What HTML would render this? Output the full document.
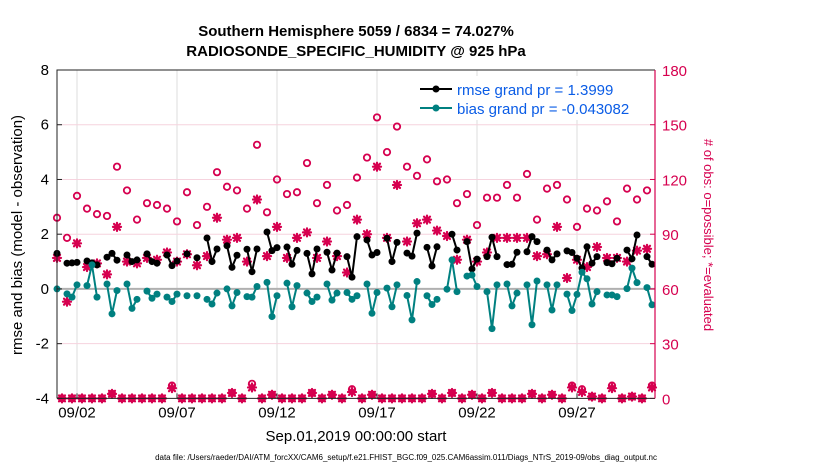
<!DOCTYPE html>
<html><head><meta charset="utf-8"><style>
html,body{margin:0;padding:0;background:#fff;}
svg{display:block;font-family:"Liberation Sans",sans-serif;}
</style></head><body>
<svg id="chart" width="830" height="470" viewBox="0 0 830 470" xmlns="http://www.w3.org/2000/svg">
<rect x="0" y="0" width="830" height="470" fill="#fff"/>
<text x="356" y="36" text-anchor="middle" font-size="15" font-weight="bold">Southern Hemisphere 5059 / 6834 = 74.027%</text>
<text x="356" y="56" text-anchor="middle" font-size="15" font-weight="bold">RADIOSONDE_SPECIFIC_HUMIDITY @ 925 hPa</text>
<g id="grid"></g>
<g id="marks"></g>
<g id="axes"></g>
<text transform="translate(22,235) rotate(-90)" text-anchor="middle" font-size="15">rmse and bias (model - observation)</text>
<text transform="translate(704,235) rotate(90)" text-anchor="middle" font-size="13" fill="#d6004f"># of obs: o=possible; *=evaluated</text>
<text x="356" y="441" text-anchor="middle" font-size="15">Sep.01,2019 00:00:00 start</text>
<text x="406" y="460" text-anchor="middle" font-size="8">data file: /Users/raeder/DAI/ATM_forcXX/CAM6_setup/f.e21.FHIST_BGC.f09_025.CAM6assim.011/Diags_NTrS_2019-09/obs_diag_output.nc</text>
<g>
<rect x="416" y="76" width="236" height="44" fill="#fff"/>
<g>
<line x1="420" y1="89" x2="452" y2="89" stroke="#000" stroke-width="2"/><circle cx="436" cy="89" r="3.5" fill="#000"/>
<text x="457" y="95" font-size="15" fill="#0a5ce6">rmse grand pr = 1.3999</text></g>
<g>
<line x1="420" y1="108" x2="452" y2="108" stroke="#008080" stroke-width="2"/><circle cx="436" cy="108" r="3.5" fill="#008080"/>
<text x="457" y="114" font-size="15" fill="#0a5ce6">bias grand pr = -0.043082</text></g>
</g>
</svg>
<script>
const dateTicks = ["09/02","09/07","09/12","09/17","09/22","09/27"];
const dateTickDays = [1,6,11,16,21,26];
const leftTicks = [-4,-2,0,2,4,6,8];
const rightTicks = [0,30,60,90,120,150,180];
const rmseIdx = [0,2,3,4,6,7,8,10,11,12,14,15,16,18,19,20,22,23,24,26,28,30,31,32,34,35,36,38,39,40,42,43,44,46,47,48,50,51,52,54,55,56,58,59,60,62,63,64,66,67,68,70,71,72,74,75,76,79,80,82,83,84,86,87,88,90,91,92,94,95,96,98,99,100,102,103,104,105,106,107,108,110,111,112,114,115,116,118,119];
const rmseVal = [1.30,0.94,0.95,0.97,1.02,0.95,0.88,1.16,1.30,1.05,1.24,1.0,1.06,1.28,1.0,0.94,1.24,0.85,1.02,1.28,1.14,1.86,1.0,1.46,1.58,0.79,1.23,1.45,0.63,1.46,2.08,1.40,1.51,1.53,0.9,1.41,1.30,0.55,1.46,1.34,0.69,1.31,1.18,0.43,1.91,1.79,1.24,1.33,1.85,1.0,1.70,1.31,1.2,2.04,1.52,0.84,1.54,2.00,1.42,1.73,0.73,1.09,1.18,1.89,1.18,0.89,0.9,1.34,1.36,1.91,1.73,1.42,1.06,1.28,1.39,1.33,1.12,0.76,1.54,0.94,1.18,0.96,0.92,1.12,1.42,1.1,1.97,1.18,0.90];
const biasIdx = [0,2,3,4,6,7,8,10,11,12,14,15,16,18,19,20,22,23,24,26,28,30,31,32,34,35,36,38,39,40,42,43,44,46,47,48,50,51,52,54,55,56,58,59,60,62,63,64,66,67,68,70,71,72,74,75,76,78,79,80,82,83,84,86,87,88,90,91,92,94,95,96,98,99,100,102,103,104,105,106,107,108,110,111,112,114,115,116,118,119];
const biasVal = [0,-0.18,-0.30,0.15,0.12,0.88,-0.30,0.18,-0.91,-0.06,0.18,-0.71,-0.38,-0.08,-0.34,-0.19,-0.30,-0.46,-0.19,-0.25,-0.25,-0.38,-0.55,-0.15,0,-0.62,-0.13,-0.28,-0.30,0.09,0.24,-1.01,-0.25,0.21,-0.65,0.12,-0.15,-0.46,-0.30,0.18,-0.41,-0.15,-0.13,-0.38,-0.25,0.18,-0.89,-0.13,0.03,-0.65,0.15,-0.24,-1.13,0.27,-0.25,-0.57,-0.38,-0.01,1.06,-0.10,0.47,0.51,0.09,-0.10,-1.45,0.15,0.18,-0.62,-0.15,0.15,-1.31,0.29,0.15,-0.77,0.15,-0.19,-0.79,-0.20,0.61,0.37,-0.55,-0.10,-0.22,-0.22,-0.28,0.01,0.76,0.23,0.05,-0.58];
const possibleEven = [99,88,111,104,101,100,127,114,98,107,106,104,97,113,95,105,124,116,114,104,139,102,120,112,113,129,107,117,103,106,121,132,154,135,149,127,122,131,119,120,107,112,95,110,110,117,110,123,98,115,117,109,94,104,103,108,97,115,109,114];
const evaluatedEven = [77,53,85,72,74,68,94,75,74,77,76,80,75,79,73,78,99,87,88,75,109,78,94,77,88,91,77,86,78,69,98,90,127,88,117,86,96,98,92,89,76,87,75,80,88,88,88,88,78,79,94,66,76,72,83,77,77,75,81,82];
const possibleOdd = [0,0,0,0,0,2.5,0,0,0,0,0,7,0,0,0,0,0,3,0,8,0,2,0,0,0,3,0,2,0,5,0,2,0,0,0,0,0,2.5,0,3,0,2,0,3,0,0,0,2.5,0,2,0,7,5,1,0,7,0,1,0,7];
const evaluatedOdd = [0,0,0,0,0,2.5,0,0,0,0,0,5.6,0,0,0,0,0,3,0,6,0,2,0,0,0,3,0,2,0,3.5,0,2,0,0,0,0,0,2.5,0,3,0,2,0,3,0,0,0,2.5,0,2,0,6,3.5,1,0,5.6,0,1,0,6];

const NS="http://www.w3.org/2000/svg";
const L=57,R=655,T=70,B=398.4;
const RED="#d6004f",TEAL="#008080";
function xDay(d){return L+d*20;}
function xIdx(i){return xDay(i/4);}
function yLeft(v){return B-(v+4)*(B-T)/12;}
function yRight(c){return B-c*(B-T)/180;}
function mk(tag,attrs,parent){const e=document.createElementNS(NS,tag);for(const k in attrs)e.setAttribute(k,attrs[k]);parent.appendChild(e);return e;}
const grid=document.getElementById('grid'),marks=document.getElementById('marks'),axes=document.getElementById('axes');

dateTickDays.forEach((d,i)=>{
  const g=mk('line',{x1:xDay(d),x2:xDay(d),y1:T,y2:B,stroke:'#dcdcdc','stroke-width':1},grid);
  
  
  const t=mk('line',{x1:xDay(d),x2:xDay(d),y1:B,y2:B-5,stroke:'#222','stroke-width':1},axes);
  
  
  const lab=mk('text',{x:xDay(d),y:B+19,'text-anchor':'middle','font-size':15},axes);
  lab.textContent=dateTicks[i];
  
  
});
leftTicks.forEach(v=>{
  if(v!==-4&&v!==8&&v!==0){
    const g=mk('line',{x1:L,x2:R,y1:yLeft(v),y2:yLeft(v),stroke:'#f6d3de','stroke-width':1},grid);
    
    
  }
  const t=mk('line',{x1:L,x2:L+5,y1:yLeft(v),y2:yLeft(v),stroke:'#222'},axes);
  
  
  const lab=mk('text',{x:L-8,y:yLeft(v)+5,'text-anchor':'end','font-size':15},axes);
  lab.textContent=v;
  
  
});
rightTicks.forEach(c=>{
  const t=mk('line',{x1:R,x2:R-5,y1:yRight(c),y2:yRight(c),stroke:RED},axes);
  
  
  const lab=mk('text',{x:R+7,y:yRight(c)+6,'font-size':15,fill:RED},axes);
  lab.textContent=c;
  
  
});
const zl=mk('line',{x1:L,x2:R,y1:yLeft(0),y2:yLeft(0),stroke:'#b0b0b0','stroke-width':2},grid);



function series(idx,val,color,name){
  let d='';
  for(let k=0;k<idx.length;k++){
    const cmd=(k>0&&idx[k]-idx[k-1]===1)?'L':'M';
    d+=cmd+xIdx(idx[k])+','+yLeft(val[k]);
  }
  const p=mk('path',{d:d,fill:'none',stroke:color,'stroke-width':2},marks);
  
  
  for(let k=0;k<idx.length;k++){
    const c=mk('circle',{cx:xIdx(idx[k]),cy:yLeft(val[k]),r:3.5,fill:color},marks);
    
    
  }
}
function star(x,y){
  const g=mk('g',{stroke:RED,'stroke-width':2.2,'stroke-linecap':'round'},marks);
  
  
  const s=4;
  mk('line',{x1:x-s,x2:x+s,y1:y,y2:y},g);
  mk('line',{x1:x,x2:x,y1:y-s,y2:y+s},g);
  mk('line',{x1:x-3,x2:x+3,y1:y-3,y2:y+3},g);
  mk('line',{x1:x-3,x2:x+3,y1:y+3,y2:y-3},g);
}
function ring(x,y){
  const c=mk('circle',{cx:x,cy:y,r:3.2,fill:'none',stroke:RED,'stroke-width':1.8},marks);
  
  
}
possibleEven.forEach((c,k)=>ring(xIdx(2*k),yRight(c)));
possibleOdd.forEach((c,k)=>ring(xIdx(2*k+1),yRight(c)));
evaluatedEven.forEach((c,k)=>star(xIdx(2*k),yRight(c)));
evaluatedOdd.forEach((c,k)=>star(xIdx(2*k+1),yRight(c)));
series(rmseIdx,rmseVal,'#000','rmse');
series(biasIdx,biasVal,TEAL,'bias');

const box1=mk('path',{d:`M${L},${B}L${L},${T}L${R},${T}`,fill:'none',stroke:'#222','stroke-width':1},axes);


const box2=mk('line',{x1:L,x2:R,y1:B,y2:B,stroke:'#222'},axes);


const box3=mk('line',{x1:R,x2:R,y1:T,y2:B,stroke:RED,'stroke-width':1.2},axes);


</script>
</body></html>
